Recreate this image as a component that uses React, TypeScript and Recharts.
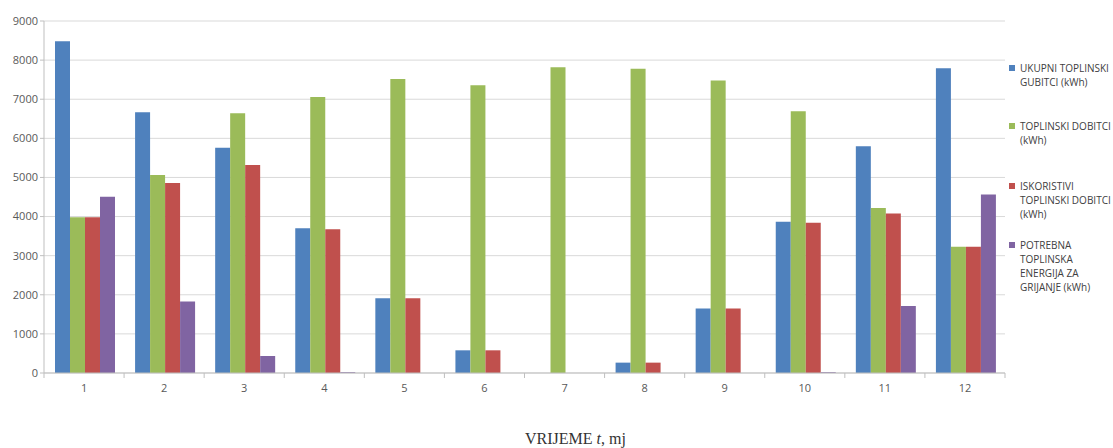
import React from "react";
import { BarChart, Bar, XAxis, YAxis, CartesianGrid, Legend } from "recharts";

const months = ["1", "2", "3", "4", "5", "6", "7", "8", "9", "10", "11", "12"];
const ukupniGubitci = [8480, 6665, 5760, 3700, 1910, 580, 0, 265, 1650, 3865, 5800, 7790];
const toplinskiDobitci = [3980, 5065, 6640, 7055, 7515, 7355, 7820, 7780, 7480, 6695, 4220, 3225];
const iskoristiviDobitci = [3980, 4860, 5315, 3675, 1910, 580, 0, 265, 1650, 3840, 4080, 3225];
const potrebnaEnergija = [4505, 1825, 435, 20, 0, 0, 0, 0, 0, 20, 1715, 4565];
const yTicks = [0, 1000, 2000, 3000, 4000, 5000, 6000, 7000, 8000, 9000];

const seriesNames = [
  "UKUPNI TOPLINSKI GUBITCI (kWh)",
  "TOPLINSKI DOBITCI (kWh)",
  "ISKORISTIVI TOPLINSKI DOBITCI (kWh)",
  "POTREBNA TOPLINSKA ENERGIJA ZA GRIJANJE (kWh)",
];
const legendLines = [
  ["UKUPNI TOPLINSKI", "GUBITCI (kWh)"],
  ["TOPLINSKI DOBITCI", "(kWh)"],
  ["ISKORISTIVI", "TOPLINSKI DOBITCI", "(kWh)"],
  ["POTREBNA", "TOPLINSKA", "ENERGIJA ZA", "GRIJANJE (kWh)"],
];
const colors = ["#4F81BD", "#9BBB59", "#C0504D", "#8064A2"];

const data = months.map((m, i) => ({
  month: m,
  a: ukupniGubitci[i],
  b: toplinskiDobitci[i],
  c: iskoristiviDobitci[i],
  d: potrebnaEnergija[i],
}));

const W = 1113;
const H = 448;
const LEGEND_W = 104;
const M = { top: 21, right: 4, bottom: 0, left: 4 };
const YW = 40;
const plotW = W - M.left - M.right - LEGEND_W - YW;
const half = plotW / months.length / 2;

const XTick = (props: any) => {
  const { x, y, payload, index } = props;
  return (
    <g>
      <line x1={x - half} x2={x - half} y1={y - 8} y2={y - 3} stroke="#bfbfbf" />
      {index === months.length - 1 && (
        <line x1={x + half} x2={x + half} y1={y - 8} y2={y - 3} stroke="#bfbfbf" />
      )}
      <text x={x} y={y + 11} textAnchor="middle" fontSize={11} fill="#595959" fontFamily="'Open Sans', sans-serif">
        {payload.value}
      </text>
    </g>
  );
};

const AxisTitle = (props: any) => {
  const { viewBox } = props;
  const cx = viewBox.x + viewBox.width / 2 + 51;
  return (
    <text x={cx} y={444} textAnchor="middle" fontSize={16} fill="#333" fontFamily="'Liberation Serif', 'Times New Roman', serif">
      VRIJEME <tspan fontStyle="italic">t</tspan>, mj
    </text>
  );
};

const LegendContent = () => (
  <div style={{ fontFamily: "'Open Sans', sans-serif", fontSize: 10, color: "#404040", lineHeight: "14px" }}>
    {legendLines.map((lines, i) => (
      <div key={i} style={{ position: "relative", paddingLeft: 11, height: [58, 60, 59, 60][i] }}>
        <span
          style={{
            position: "absolute",
            left: 0,
            top: 4,
            width: 6,
            height: 6,
            background: colors[i],
          }}
        />
        {lines.map((l, j) => (
          <div key={j} style={{ whiteSpace: "nowrap" }}>{l}</div>
        ))}
      </div>
    ))}
  </div>
);

export default function App() {
  return (
    <div style={{ position: "absolute", left: 0, top: 0, width: W, height: H, background: "#fff" }}>
      <BarChart width={W} height={H} data={data} margin={M} barCategoryGap={11} barGap={0}>
        <CartesianGrid vertical={false} stroke="#d9d9d9" />
        <XAxis
          dataKey="month"
          height={75}
          axisLine={{ stroke: "#bfbfbf" }}
          tickLine={false}
          tick={<XTick />}
          interval={0}
          label={<AxisTitle />}
        />
        <YAxis
          width={YW}
          domain={[0, 9000]}
          ticks={yTicks}
          interval={0}
          axisLine={{ stroke: "#bfbfbf" }}
          tickLine={{ stroke: "#bfbfbf" }}
          tickSize={4}
          tick={{ fontSize: 11, fill: "#595959", fontFamily: "'Open Sans', sans-serif" }}
        />
        <Legend
          layout="vertical"
          align="right"
          verticalAlign="top"
          wrapperStyle={{ left: 1009, top: 61, width: LEGEND_W }}
          content={<LegendContent />}
        />
        <Bar dataKey="a" name={seriesNames[0]} fill={colors[0]} isAnimationActive={false} />
        <Bar dataKey="b" name={seriesNames[1]} fill={colors[1]} isAnimationActive={false} />
        <Bar dataKey="c" name={seriesNames[2]} fill={colors[2]} isAnimationActive={false} />
        <Bar dataKey="d" name={seriesNames[3]} fill={colors[3]} isAnimationActive={false} />
      </BarChart>
    </div>
  );
}
